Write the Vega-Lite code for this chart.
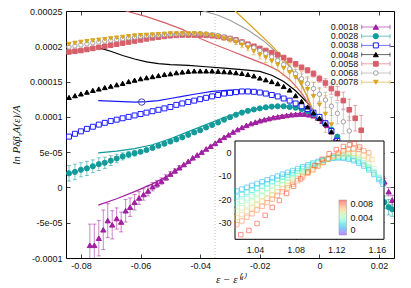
{
"$schema":"https://vega.github.io/schema/vega-lite/v6.json",
"width":328,"height":247,
"autosize":{"type":"none"},
"padding":{"left":66,"top":11,"right":17,"bottom":30},
"background":"white",
"config":{
 "view":{"stroke":"#000","strokeWidth":1},
 "axis":{"labelFont":"Liberation Sans","labelFontSize":9,"labelColor":"#111","tickColor":"#111","tickSize":-4,"tickWidth":0.8,"domain":false,"grid":false,"titleFont":"Liberation Serif","titleFontStyle":"italic","titleFontWeight":"normal","titleFontSize":11,"titleColor":"#111","zindex":1}
},
"datasets":{
"ser":[{"s":"0.0018"},{"s":"0.0028"},{"s":"0.0038"},{"s":"0.0048"},{"s":"0.0058"},{"s":"0.0068"},{"s":"0.0078"}],
"th":[
{"s":"0.0018","x":-0.0742,"y":-2.5e-5},{"s":"0.0018","x":-0.068,"y":-1.6e-5},{"s":"0.0018","x":-0.062,"y":-0.6e-5},{"s":"0.0018","x":-0.056,"y":0.5e-5},{"s":"0.0018","x":-0.05,"y":1.8e-5},{"s":"0.0018","x":-0.044,"y":3.5e-5},{"s":"0.0018","x":-0.038,"y":5.4e-5},{"s":"0.0018","x":-0.032,"y":7.1e-5},{"s":"0.0018","x":-0.026,"y":8.5e-5},{"s":"0.0018","x":-0.02,"y":9.5e-5},{"s":"0.0018","x":-0.014,"y":10.1e-5},{"s":"0.0018","x":-0.008,"y":10.45e-5},{"s":"0.0018","x":-0.002,"y":10.6e-5},
{"s":"0.0028","x":-0.0742,"y":4.9e-5},{"s":"0.0028","x":-0.068,"y":5.15e-5},{"s":"0.0028","x":-0.062,"y":5.5e-5},{"s":"0.0028","x":-0.056,"y":6.05e-5},{"s":"0.0028","x":-0.05,"y":6.9e-5},{"s":"0.0028","x":-0.044,"y":7.9e-5},{"s":"0.0028","x":-0.038,"y":8.9e-5},{"s":"0.0028","x":-0.032,"y":9.9e-5},{"s":"0.0028","x":-0.026,"y":10.7e-5},{"s":"0.0028","x":-0.02,"y":11.25e-5},{"s":"0.0028","x":-0.014,"y":11.5e-5},{"s":"0.0028","x":-0.008,"y":11.3e-5},{"s":"0.0028","x":-0.002,"y":10.6e-5},
{"s":"0.0038","x":-0.0742,"y":12.3e-5},{"s":"0.0038","x":-0.068,"y":12.2e-5},{"s":"0.0038","x":-0.062,"y":12.1e-5},{"s":"0.0038","x":-0.058,"y":12.15e-5},{"s":"0.0038","x":-0.054,"y":12.3e-5},{"s":"0.0038","x":-0.05,"y":12.6e-5},{"s":"0.0038","x":-0.046,"y":12.9e-5},{"s":"0.0038","x":-0.042,"y":13.2e-5},{"s":"0.0038","x":-0.036,"y":13.6e-5},{"s":"0.0038","x":-0.03,"y":13.8e-5},{"s":"0.0038","x":-0.024,"y":13.75e-5},{"s":"0.0038","x":-0.018,"y":13.4e-5},{"s":"0.0038","x":-0.012,"y":12.7e-5},{"s":"0.0038","x":-0.006,"y":11.6e-5},{"s":"0.0038","x":-0.002,"y":10.7e-5},
{"s":"0.0048","x":-0.0742,"y":19.8e-5},{"s":"0.0048","x":-0.07,"y":19.3e-5},{"s":"0.0048","x":-0.066,"y":18.7e-5},{"s":"0.0048","x":-0.062,"y":18.2e-5},{"s":"0.0048","x":-0.058,"y":17.8e-5},{"s":"0.0048","x":-0.054,"y":17.55e-5},{"s":"0.0048","x":-0.05,"y":17.4e-5},{"s":"0.0048","x":-0.044,"y":17.3e-5},{"s":"0.0048","x":-0.038,"y":17.1e-5},{"s":"0.0048","x":-0.032,"y":16.9e-5},{"s":"0.0048","x":-0.026,"y":16.7e-5},{"s":"0.0048","x":-0.02,"y":16.45e-5},{"s":"0.0048","x":-0.016,"y":15.9e-5},{"s":"0.0048","x":-0.012,"y":15.0e-5},{"s":"0.0048","x":-0.008,"y":13.7e-5},{"s":"0.0048","x":-0.004,"y":12.0e-5},{"s":"0.0048","x":-0.002,"y":10.8e-5},
{"s":"0.0058","x":-0.0742,"y":26.3e-5},{"s":"0.0058","x":-0.064,"y":24.9e-5},{"s":"0.0058","x":-0.058,"y":24.2e-5},{"s":"0.0058","x":-0.052,"y":23.35e-5},{"s":"0.0058","x":-0.046,"y":22.4e-5},{"s":"0.0058","x":-0.04,"y":21.1e-5},{"s":"0.0058","x":-0.036,"y":20.4e-5},{"s":"0.0058","x":-0.03,"y":19.4e-5},{"s":"0.0058","x":-0.024,"y":18.4e-5},{"s":"0.0058","x":-0.018,"y":17.4e-5},{"s":"0.0058","x":-0.014,"y":16.6e-5},{"s":"0.0058","x":-0.01,"y":15.3e-5},{"s":"0.0058","x":-0.006,"y":13.4e-5},{"s":"0.0058","x":-0.002,"y":10.7e-5},
{"s":"0.0068","x":-0.046,"y":26.2e-5},{"s":"0.0068","x":-0.039,"y":25.0e-5},{"s":"0.0068","x":-0.034,"y":24.4e-5},{"s":"0.0068","x":-0.03,"y":23.7e-5},{"s":"0.0068","x":-0.024,"y":22.3e-5},{"s":"0.0068","x":-0.0188,"y":20.8e-5},{"s":"0.0068","x":-0.0132,"y":18.7e-5},{"s":"0.0068","x":-0.01,"y":17.2e-5},{"s":"0.0068","x":-0.006,"y":14.7e-5},{"s":"0.0068","x":-0.002,"y":10.7e-5},
{"s":"0.0078","x":-0.032,"y":26.5e-5},{"s":"0.0078","x":-0.028,"y":24.9e-5},{"s":"0.0078","x":-0.024,"y":23.3e-5},{"s":"0.0078","x":-0.02,"y":21.7e-5},{"s":"0.0078","x":-0.016,"y":20.1e-5},{"s":"0.0078","x":-0.012,"y":18.3e-5},{"s":"0.0078","x":-0.008,"y":15.9e-5},{"s":"0.0078","x":-0.004,"y":12.9e-5},{"s":"0.0078","x":-0.002,"y":10.7e-5}
],
"mk":[{"x":-0.0596,"y":12.1e-5}],
"pts":[
{"s":"0.0018","x":-0.077,"y":-8.2e-5,"e":3.0e-5},{"s":"0.0018","x":-0.0755,"y":-8.2e-5,"e":3.0e-5},{"s":"0.0018","x":-0.074,"y":-7.2e-5,"e":2.5e-5},{"s":"0.0018","x":-0.0725,"y":-6.0e-5,"e":2.8e-5},{"s":"0.0018","x":-0.071,"y":-4.7e-5,"e":2.4e-5},{"s":"0.0018","x":-0.0695,"y":-5.3e-5,"e":2.0e-5},{"s":"0.0018","x":-0.068,"y":-4.4e-5,"e":1.5e-5},{"s":"0.0018","x":-0.0665,"y":-4.9e-5,"e":1.4e-5},{"s":"0.0018","x":-0.065,"y":-3.3e-5,"e":1.6e-5},{"s":"0.0018","x":-0.0635,"y":-2.8e-5,"e":1.3e-5},{"s":"0.0018","x":-0.062,"y":-2.1e-5,"e":1.1e-5},{"s":"0.0018","x":-0.0605,"y":-1.5e-5,"e":0.9e-5},{"s":"0.0018","x":-0.059,"y":-1.0e-5,"e":0.8e-5},{"s":"0.0018","x":-0.0575,"y":-0.5e-5,"e":0.7e-5},{"s":"0.0018","x":-0.056,"y":0.1e-5,"e":0.6e-5},{"s":"0.0018","x":-0.0545,"y":0.5e-5,"e":0.5e-5},{"s":"0.0018","x":-0.053,"y":0.9e-5,"e":0.45e-5},{"s":"0.0018","x":-0.0515,"y":1.4e-5,"e":0.4e-5},{"s":"0.0018","x":-0.05,"y":1.9e-5,"e":0.35e-5},{"s":"0.0018","x":-0.0485,"y":2.35e-5,"e":0.3e-5},{"s":"0.0018","x":-0.047,"y":2.8e-5,"e":0.3e-5},{"s":"0.0018","x":-0.0455,"y":3.25e-5},{"s":"0.0018","x":-0.044,"y":3.7e-5},{"s":"0.0018","x":-0.0425,"y":4.2e-5},{"s":"0.0018","x":-0.041,"y":4.6e-5},{"s":"0.0018","x":-0.0395,"y":5.0e-5},{"s":"0.0018","x":-0.038,"y":5.45e-5},{"s":"0.0018","x":-0.0365,"y":5.85e-5},{"s":"0.0018","x":-0.035,"y":6.25e-5},{"s":"0.0018","x":-0.0335,"y":6.7e-5},{"s":"0.0018","x":-0.032,"y":7.1e-5},{"s":"0.0018","x":-0.0305,"y":7.45e-5},{"s":"0.0018","x":-0.029,"y":7.85e-5},{"s":"0.0018","x":-0.0275,"y":8.2e-5},{"s":"0.0018","x":-0.026,"y":8.5e-5},{"s":"0.0018","x":-0.0245,"y":8.8e-5},{"s":"0.0018","x":-0.023,"y":9.05e-5},{"s":"0.0018","x":-0.0215,"y":9.25e-5},{"s":"0.0018","x":-0.02,"y":9.45e-5},{"s":"0.0018","x":-0.0185,"y":9.6e-5},{"s":"0.0018","x":-0.017,"y":9.75e-5},{"s":"0.0018","x":-0.0155,"y":9.9e-5},{"s":"0.0018","x":-0.014,"y":10.0e-5},{"s":"0.0018","x":-0.0125,"y":10.1e-5},{"s":"0.0018","x":-0.011,"y":10.2e-5},{"s":"0.0018","x":-0.0095,"y":10.3e-5},{"s":"0.0018","x":-0.008,"y":10.35e-5},{"s":"0.0018","x":-0.0065,"y":10.4e-5},{"s":"0.0018","x":-0.005,"y":10.4e-5},{"s":"0.0018","x":-0.0035,"y":10.3e-5},{"s":"0.0018","x":-0.002,"y":10.15e-5},{"s":"0.0018","x":-0.0005,"y":9.85e-5},{"s":"0.0018","x":0.001,"y":9.4e-5},{"s":"0.0018","x":0.0025,"y":8.8e-5},{"s":"0.0018","x":0.004,"y":7.9e-5},{"s":"0.0018","x":0.0055,"y":7.0e-5},{"s":"0.0018","x":0.007,"y":6.0e-5},{"s":"0.0018","x":0.0218,"y":0.8e-5,"e":0.5e-5},{"s":"0.0018","x":0.0232,"y":-0.6e-5,"e":0.6e-5},{"s":"0.0018","x":0.0244,"y":-1.8e-5,"e":0.7e-5},
{"s":"0.0028","x":-0.084,"y":2.0e-5,"e":1.1e-5},{"s":"0.0028","x":-0.082,"y":2.2e-5,"e":1.1e-5},{"s":"0.0028","x":-0.08,"y":2.5e-5,"e":1.0e-5},{"s":"0.0028","x":-0.078,"y":2.7e-5,"e":1.0e-5},{"s":"0.0028","x":-0.076,"y":3.0e-5,"e":0.9e-5},{"s":"0.0028","x":-0.074,"y":3.3e-5,"e":0.9e-5},{"s":"0.0028","x":-0.072,"y":3.5e-5,"e":0.8e-5},{"s":"0.0028","x":-0.07,"y":3.8e-5,"e":0.7e-5},{"s":"0.0028","x":-0.068,"y":4.1e-5,"e":0.6e-5},{"s":"0.0028","x":-0.066,"y":4.4e-5,"e":0.5e-5},{"s":"0.0028","x":-0.064,"y":4.65e-5,"e":0.45e-5},{"s":"0.0028","x":-0.062,"y":4.85e-5,"e":0.4e-5},{"s":"0.0028","x":-0.06,"y":5.05e-5},{"s":"0.0028","x":-0.058,"y":5.3e-5},{"s":"0.0028","x":-0.056,"y":5.6e-5},{"s":"0.0028","x":-0.054,"y":5.9e-5},{"s":"0.0028","x":-0.052,"y":6.2e-5},{"s":"0.0028","x":-0.05,"y":6.5e-5},{"s":"0.0028","x":-0.048,"y":6.8e-5},{"s":"0.0028","x":-0.046,"y":7.1e-5},{"s":"0.0028","x":-0.044,"y":7.45e-5},{"s":"0.0028","x":-0.042,"y":7.8e-5},{"s":"0.0028","x":-0.04,"y":8.1e-5},{"s":"0.0028","x":-0.038,"y":8.5e-5},{"s":"0.0028","x":-0.036,"y":8.85e-5},{"s":"0.0028","x":-0.034,"y":9.2e-5},{"s":"0.0028","x":-0.032,"y":9.6e-5},{"s":"0.0028","x":-0.03,"y":9.95e-5},{"s":"0.0028","x":-0.028,"y":10.3e-5},{"s":"0.0028","x":-0.026,"y":10.6e-5},{"s":"0.0028","x":-0.024,"y":10.85e-5},{"s":"0.0028","x":-0.022,"y":11.05e-5},{"s":"0.0028","x":-0.02,"y":11.2e-5},{"s":"0.0028","x":-0.018,"y":11.35e-5},{"s":"0.0028","x":-0.016,"y":11.45e-5},{"s":"0.0028","x":-0.014,"y":11.5e-5},{"s":"0.0028","x":-0.012,"y":11.5e-5},{"s":"0.0028","x":-0.01,"y":11.4e-5},{"s":"0.0028","x":-0.008,"y":11.3e-5},{"s":"0.0028","x":-0.006,"y":11.1e-5},{"s":"0.0028","x":-0.004,"y":10.8e-5},{"s":"0.0028","x":-0.002,"y":10.4e-5},{"s":"0.0028","x":0.0,"y":9.8e-5},{"s":"0.0028","x":0.002,"y":9.1e-5},{"s":"0.0028","x":0.004,"y":8.2e-5},{"s":"0.0028","x":0.006,"y":7.2e-5},{"s":"0.0028","x":0.008,"y":6.0e-5},{"s":"0.0028","x":0.0218,"y":-2.1e-5,"e":0.9e-5},{"s":"0.0028","x":0.0232,"y":-2.8e-5,"e":1.1e-5},{"s":"0.0028","x":0.0244,"y":-3.1e-5,"e":1.0e-5},
{"s":"0.0038","x":-0.084,"y":7.2e-5},{"s":"0.0038","x":-0.082,"y":7.6e-5},{"s":"0.0038","x":-0.08,"y":7.95e-5},{"s":"0.0038","x":-0.078,"y":8.3e-5},{"s":"0.0038","x":-0.076,"y":8.6e-5},{"s":"0.0038","x":-0.074,"y":8.9e-5},{"s":"0.0038","x":-0.072,"y":9.15e-5},{"s":"0.0038","x":-0.07,"y":9.4e-5},{"s":"0.0038","x":-0.068,"y":9.6e-5},{"s":"0.0038","x":-0.066,"y":9.8e-5},{"s":"0.0038","x":-0.064,"y":10.0e-5},{"s":"0.0038","x":-0.062,"y":10.2e-5},{"s":"0.0038","x":-0.06,"y":10.4e-5},{"s":"0.0038","x":-0.058,"y":10.6e-5},{"s":"0.0038","x":-0.056,"y":10.8e-5},{"s":"0.0038","x":-0.054,"y":11.0e-5},{"s":"0.0038","x":-0.052,"y":11.2e-5},{"s":"0.0038","x":-0.05,"y":11.4e-5},{"s":"0.0038","x":-0.048,"y":11.7e-5},{"s":"0.0038","x":-0.046,"y":11.9e-5},{"s":"0.0038","x":-0.044,"y":12.1e-5},{"s":"0.0038","x":-0.042,"y":12.3e-5},{"s":"0.0038","x":-0.04,"y":12.5e-5},{"s":"0.0038","x":-0.038,"y":12.7e-5},{"s":"0.0038","x":-0.036,"y":12.9e-5},{"s":"0.0038","x":-0.034,"y":13.1e-5},{"s":"0.0038","x":-0.032,"y":13.3e-5},{"s":"0.0038","x":-0.03,"y":13.4e-5},{"s":"0.0038","x":-0.028,"y":13.5e-5},{"s":"0.0038","x":-0.026,"y":13.6e-5},{"s":"0.0038","x":-0.024,"y":13.6e-5},{"s":"0.0038","x":-0.022,"y":13.55e-5},{"s":"0.0038","x":-0.02,"y":13.45e-5},{"s":"0.0038","x":-0.018,"y":13.3e-5},{"s":"0.0038","x":-0.016,"y":13.1e-5},{"s":"0.0038","x":-0.014,"y":12.9e-5},{"s":"0.0038","x":-0.012,"y":12.6e-5},{"s":"0.0038","x":-0.01,"y":12.3e-5},{"s":"0.0038","x":-0.008,"y":11.9e-5},{"s":"0.0038","x":-0.006,"y":11.5e-5},{"s":"0.0038","x":-0.004,"y":11.1e-5},{"s":"0.0038","x":-0.002,"y":10.6e-5},{"s":"0.0038","x":0.0,"y":10.0e-5},{"s":"0.0038","x":0.002,"y":9.1e-5},{"s":"0.0038","x":0.004,"y":8.0e-5},{"s":"0.0038","x":0.006,"y":6.6e-5},
{"s":"0.0048","x":-0.084,"y":12.75e-5},{"s":"0.0048","x":-0.082,"y":13.0e-5},{"s":"0.0048","x":-0.08,"y":13.25e-5},{"s":"0.0048","x":-0.078,"y":13.5e-5},{"s":"0.0048","x":-0.076,"y":13.75e-5},{"s":"0.0048","x":-0.074,"y":13.95e-5},{"s":"0.0048","x":-0.072,"y":14.15e-5},{"s":"0.0048","x":-0.07,"y":14.35e-5},{"s":"0.0048","x":-0.068,"y":14.55e-5},{"s":"0.0048","x":-0.066,"y":14.75e-5},{"s":"0.0048","x":-0.064,"y":15.0e-5},{"s":"0.0048","x":-0.062,"y":15.2e-5},{"s":"0.0048","x":-0.06,"y":15.4e-5},{"s":"0.0048","x":-0.058,"y":15.55e-5},{"s":"0.0048","x":-0.056,"y":15.7e-5},{"s":"0.0048","x":-0.054,"y":15.85e-5},{"s":"0.0048","x":-0.052,"y":16.0e-5},{"s":"0.0048","x":-0.05,"y":16.1e-5},{"s":"0.0048","x":-0.048,"y":16.25e-5},{"s":"0.0048","x":-0.046,"y":16.35e-5},{"s":"0.0048","x":-0.044,"y":16.45e-5},{"s":"0.0048","x":-0.042,"y":16.5e-5},{"s":"0.0048","x":-0.04,"y":16.5e-5},{"s":"0.0048","x":-0.038,"y":16.5e-5},{"s":"0.0048","x":-0.036,"y":16.5e-5},{"s":"0.0048","x":-0.034,"y":16.45e-5},{"s":"0.0048","x":-0.032,"y":16.4e-5},{"s":"0.0048","x":-0.03,"y":16.35e-5},{"s":"0.0048","x":-0.028,"y":16.25e-5},{"s":"0.0048","x":-0.026,"y":16.15e-5},{"s":"0.0048","x":-0.024,"y":16.0e-5},{"s":"0.0048","x":-0.022,"y":15.8e-5},{"s":"0.0048","x":-0.02,"y":15.5e-5},{"s":"0.0048","x":-0.018,"y":15.25e-5},{"s":"0.0048","x":-0.016,"y":15.0e-5},{"s":"0.0048","x":-0.014,"y":14.7e-5},{"s":"0.0048","x":-0.012,"y":14.3e-5},{"s":"0.0048","x":-0.01,"y":13.8e-5},{"s":"0.0048","x":-0.008,"y":13.0e-5},{"s":"0.0048","x":-0.006,"y":12.2e-5},{"s":"0.0048","x":-0.004,"y":11.4e-5},{"s":"0.0048","x":-0.002,"y":10.6e-5},{"s":"0.0048","x":0.0,"y":9.8e-5},{"s":"0.0048","x":0.002,"y":9.0e-5},{"s":"0.0048","x":0.004,"y":7.9e-5},{"s":"0.0048","x":0.006,"y":6.5e-5},
{"s":"0.0058","x":-0.084,"y":19.2e-5},{"s":"0.0058","x":-0.082,"y":19.3e-5},{"s":"0.0058","x":-0.08,"y":19.4e-5},{"s":"0.0058","x":-0.078,"y":19.55e-5},{"s":"0.0058","x":-0.076,"y":19.7e-5},{"s":"0.0058","x":-0.074,"y":19.85e-5},{"s":"0.0058","x":-0.072,"y":20.0e-5},{"s":"0.0058","x":-0.07,"y":20.15e-5},{"s":"0.0058","x":-0.068,"y":20.3e-5},{"s":"0.0058","x":-0.066,"y":20.45e-5},{"s":"0.0058","x":-0.064,"y":20.6e-5},{"s":"0.0058","x":-0.062,"y":20.75e-5},{"s":"0.0058","x":-0.06,"y":20.9e-5},{"s":"0.0058","x":-0.058,"y":21.05e-5},{"s":"0.0058","x":-0.056,"y":21.2e-5},{"s":"0.0058","x":-0.054,"y":21.3e-5},{"s":"0.0058","x":-0.052,"y":21.4e-5},{"s":"0.0058","x":-0.05,"y":21.5e-5},{"s":"0.0058","x":-0.048,"y":21.55e-5},{"s":"0.0058","x":-0.046,"y":21.6e-5},{"s":"0.0058","x":-0.044,"y":21.6e-5},{"s":"0.0058","x":-0.042,"y":21.6e-5},{"s":"0.0058","x":-0.04,"y":21.6e-5},{"s":"0.0058","x":-0.038,"y":21.55e-5},{"s":"0.0058","x":-0.036,"y":21.5e-5},{"s":"0.0058","x":-0.034,"y":21.4e-5},{"s":"0.0058","x":-0.032,"y":21.25e-5},{"s":"0.0058","x":-0.03,"y":21.1e-5},{"s":"0.0058","x":-0.028,"y":20.9e-5},{"s":"0.0058","x":-0.026,"y":20.6e-5},{"s":"0.0058","x":-0.024,"y":20.3e-5},{"s":"0.0058","x":-0.022,"y":20.0e-5},{"s":"0.0058","x":-0.02,"y":19.7e-5},{"s":"0.0058","x":-0.018,"y":19.4e-5},{"s":"0.0058","x":-0.016,"y":19.1e-5},{"s":"0.0058","x":-0.014,"y":18.8e-5},{"s":"0.0058","x":-0.012,"y":18.4e-5,"e":0.25e-5},{"s":"0.0058","x":-0.01,"y":18.0e-5,"e":0.3e-5},{"s":"0.0058","x":-0.008,"y":17.5e-5,"e":0.3e-5},{"s":"0.0058","x":-0.006,"y":17.0e-5,"e":0.35e-5},{"s":"0.0058","x":-0.004,"y":16.6e-5,"e":0.4e-5},{"s":"0.0058","x":-0.002,"y":16.1e-5,"e":0.45e-5},{"s":"0.0058","x":0.0,"y":15.4e-5,"e":0.5e-5},{"s":"0.0058","x":0.002,"y":14.8e-5,"e":0.6e-5},{"s":"0.0058","x":0.004,"y":14.0e-5,"e":0.8e-5},{"s":"0.0058","x":0.006,"y":13.3e-5,"e":1.0e-5},{"s":"0.0058","x":0.008,"y":12.3e-5,"e":1.2e-5},{"s":"0.0058","x":0.01,"y":11.0e-5,"e":1.5e-5},{"s":"0.0058","x":0.012,"y":9.8e-5,"e":1.8e-5},{"s":"0.0058","x":0.014,"y":8.1e-5,"e":2.1e-5},
{"s":"0.0068","x":-0.084,"y":19.9e-5},{"s":"0.0068","x":-0.082,"y":20.05e-5},{"s":"0.0068","x":-0.08,"y":20.2e-5},{"s":"0.0068","x":-0.078,"y":20.35e-5},{"s":"0.0068","x":-0.076,"y":20.5e-5},{"s":"0.0068","x":-0.074,"y":20.6e-5},{"s":"0.0068","x":-0.072,"y":20.75e-5},{"s":"0.0068","x":-0.07,"y":20.85e-5},{"s":"0.0068","x":-0.068,"y":20.95e-5},{"s":"0.0068","x":-0.066,"y":21.1e-5},{"s":"0.0068","x":-0.064,"y":21.2e-5},{"s":"0.0068","x":-0.062,"y":21.3e-5},{"s":"0.0068","x":-0.06,"y":21.4e-5},{"s":"0.0068","x":-0.058,"y":21.5e-5},{"s":"0.0068","x":-0.056,"y":21.55e-5},{"s":"0.0068","x":-0.054,"y":21.6e-5},{"s":"0.0068","x":-0.052,"y":21.65e-5},{"s":"0.0068","x":-0.05,"y":21.7e-5},{"s":"0.0068","x":-0.048,"y":21.75e-5},{"s":"0.0068","x":-0.046,"y":21.8e-5},{"s":"0.0068","x":-0.044,"y":21.8e-5},{"s":"0.0068","x":-0.042,"y":21.8e-5},{"s":"0.0068","x":-0.04,"y":21.8e-5},{"s":"0.0068","x":-0.038,"y":21.75e-5},{"s":"0.0068","x":-0.036,"y":21.65e-5},{"s":"0.0068","x":-0.034,"y":21.5e-5},{"s":"0.0068","x":-0.032,"y":21.3e-5},{"s":"0.0068","x":-0.03,"y":21.1e-5},{"s":"0.0068","x":-0.028,"y":20.85e-5},{"s":"0.0068","x":-0.026,"y":20.55e-5},{"s":"0.0068","x":-0.024,"y":20.2e-5},{"s":"0.0068","x":-0.022,"y":19.8e-5},{"s":"0.0068","x":-0.02,"y":19.4e-5},{"s":"0.0068","x":-0.018,"y":19.0e-5,"e":0.25e-5},{"s":"0.0068","x":-0.016,"y":18.5e-5,"e":0.3e-5},{"s":"0.0068","x":-0.014,"y":18.0e-5,"e":0.35e-5},{"s":"0.0068","x":-0.012,"y":17.4e-5,"e":0.4e-5},{"s":"0.0068","x":-0.01,"y":16.8e-5,"e":0.5e-5},{"s":"0.0068","x":-0.008,"y":16.1e-5,"e":0.6e-5},{"s":"0.0068","x":-0.006,"y":15.4e-5,"e":0.7e-5},{"s":"0.0068","x":-0.004,"y":14.7e-5,"e":0.8e-5},{"s":"0.0068","x":-0.002,"y":14.0e-5,"e":0.9e-5},{"s":"0.0068","x":0.0,"y":13.2e-5,"e":1.0e-5},{"s":"0.0068","x":0.002,"y":12.4e-5,"e":1.1e-5},{"s":"0.0068","x":0.004,"y":11.5e-5,"e":1.3e-5},{"s":"0.0068","x":0.006,"y":10.5e-5,"e":1.5e-5},{"s":"0.0068","x":0.008,"y":9.3e-5,"e":1.7e-5},{"s":"0.0068","x":0.01,"y":8.0e-5,"e":2.0e-5},
{"s":"0.0078","x":-0.084,"y":20.3e-5},{"s":"0.0078","x":-0.082,"y":20.45e-5},{"s":"0.0078","x":-0.08,"y":20.6e-5},{"s":"0.0078","x":-0.078,"y":20.7e-5},{"s":"0.0078","x":-0.076,"y":20.8e-5},{"s":"0.0078","x":-0.074,"y":20.9e-5},{"s":"0.0078","x":-0.072,"y":21.0e-5},{"s":"0.0078","x":-0.07,"y":21.1e-5},{"s":"0.0078","x":-0.068,"y":21.2e-5},{"s":"0.0078","x":-0.066,"y":21.3e-5},{"s":"0.0078","x":-0.064,"y":21.4e-5},{"s":"0.0078","x":-0.062,"y":21.5e-5},{"s":"0.0078","x":-0.06,"y":21.55e-5},{"s":"0.0078","x":-0.058,"y":21.6e-5},{"s":"0.0078","x":-0.056,"y":21.65e-5},{"s":"0.0078","x":-0.054,"y":21.7e-5},{"s":"0.0078","x":-0.052,"y":21.75e-5},{"s":"0.0078","x":-0.05,"y":21.8e-5},{"s":"0.0078","x":-0.048,"y":21.8e-5},{"s":"0.0078","x":-0.046,"y":21.8e-5},{"s":"0.0078","x":-0.044,"y":21.8e-5},{"s":"0.0078","x":-0.042,"y":21.8e-5},{"s":"0.0078","x":-0.04,"y":21.75e-5},{"s":"0.0078","x":-0.038,"y":21.7e-5},{"s":"0.0078","x":-0.036,"y":21.55e-5},{"s":"0.0078","x":-0.034,"y":21.35e-5,"e":0.2e-5},{"s":"0.0078","x":-0.032,"y":21.1e-5,"e":0.25e-5},{"s":"0.0078","x":-0.03,"y":20.9e-5,"e":0.3e-5},{"s":"0.0078","x":-0.028,"y":20.6e-5,"e":0.35e-5},{"s":"0.0078","x":-0.026,"y":20.2e-5,"e":0.4e-5},{"s":"0.0078","x":-0.024,"y":19.8e-5,"e":0.45e-5},{"s":"0.0078","x":-0.022,"y":19.3e-5,"e":0.5e-5},{"s":"0.0078","x":-0.02,"y":18.8e-5,"e":0.6e-5},{"s":"0.0078","x":-0.018,"y":18.4e-5,"e":0.7e-5},{"s":"0.0078","x":-0.016,"y":17.9e-5,"e":0.8e-5},{"s":"0.0078","x":-0.014,"y":17.4e-5,"e":0.9e-5},{"s":"0.0078","x":-0.012,"y":16.9e-5,"e":1.0e-5},{"s":"0.0078","x":-0.01,"y":16.3e-5,"e":1.2e-5},{"s":"0.0078","x":-0.008,"y":15.6e-5,"e":1.4e-5},{"s":"0.0078","x":-0.006,"y":14.8e-5,"e":1.6e-5},{"s":"0.0078","x":-0.004,"y":13.9e-5,"e":1.8e-5},{"s":"0.0078","x":-0.002,"y":12.9e-5,"e":2.0e-5},{"s":"0.0078","x":0.0,"y":11.7e-5,"e":2.3e-5},{"s":"0.0078","x":0.002,"y":10.4e-5,"e":2.6e-5},{"s":"0.0078","x":0.004,"y":8.9e-5,"e":2.9e-5}
],
"ins":[
{"c":0.0018,"x":1.022,"y":-16.5},{"c":0.0018,"x":1.027,"y":-15.7},{"c":0.0018,"x":1.032,"y":-14.9},{"c":0.0018,"x":1.037,"y":-14.1},{"c":0.0018,"x":1.042,"y":-13.3},{"c":0.0018,"x":1.047,"y":-12.5},{"c":0.0018,"x":1.052,"y":-11.7},{"c":0.0018,"x":1.057,"y":-10.9},{"c":0.0018,"x":1.062,"y":-10.1},{"c":0.0018,"x":1.067,"y":-9.3},{"c":0.0018,"x":1.072,"y":-8.5},{"c":0.0018,"x":1.077,"y":-7.7},{"c":0.0018,"x":1.082,"y":-6.9},{"c":0.0018,"x":1.087,"y":-6.1},{"c":0.0018,"x":1.092,"y":-5.3},{"c":0.0018,"x":1.097,"y":-4.5},{"c":0.0018,"x":1.102,"y":-3.8},{"c":0.0018,"x":1.107,"y":-3.2},{"c":0.0018,"x":1.112,"y":-2.7},{"c":0.0018,"x":1.117,"y":-2.4},{"c":0.0018,"x":1.122,"y":-2.3},{"c":0.0018,"x":1.127,"y":-2.4},{"c":0.0018,"x":1.132,"y":-2.8},{"c":0.0018,"x":1.137,"y":-3.5},{"c":0.0018,"x":1.142,"y":-4.5},{"c":0.0018,"x":1.147,"y":-5.8},{"c":0.0018,"x":1.152,"y":-7.4},{"c":0.0018,"x":1.157,"y":-9.4},{"c":0.0018,"x":1.162,"y":-11.6},{"c":0.0018,"x":1.166,"y":-13.6},
{"c":0.0028,"x":1.022,"y":-19.0},{"c":0.0028,"x":1.027,"y":-18.1},{"c":0.0028,"x":1.032,"y":-17.1},{"c":0.0028,"x":1.037,"y":-16.2},{"c":0.0028,"x":1.042,"y":-15.3},{"c":0.0028,"x":1.047,"y":-14.4},{"c":0.0028,"x":1.052,"y":-13.4},{"c":0.0028,"x":1.057,"y":-12.5},{"c":0.0028,"x":1.062,"y":-11.6},{"c":0.0028,"x":1.067,"y":-10.6},{"c":0.0028,"x":1.072,"y":-9.7},{"c":0.0028,"x":1.077,"y":-8.8},{"c":0.0028,"x":1.082,"y":-7.9},{"c":0.0028,"x":1.087,"y":-6.9},{"c":0.0028,"x":1.092,"y":-6.0},{"c":0.0028,"x":1.097,"y":-5.1},{"c":0.0028,"x":1.102,"y":-4.2},{"c":0.0028,"x":1.107,"y":-3.4},{"c":0.0028,"x":1.112,"y":-2.7},{"c":0.0028,"x":1.117,"y":-2.2},{"c":0.0028,"x":1.122,"y":-1.95},{"c":0.0028,"x":1.127,"y":-1.95},{"c":0.0028,"x":1.132,"y":-2.2},{"c":0.0028,"x":1.137,"y":-2.9},{"c":0.0028,"x":1.142,"y":-3.8},{"c":0.0028,"x":1.147,"y":-5.1},{"c":0.0028,"x":1.152,"y":-6.7},{"c":0.0028,"x":1.157,"y":-8.7},{"c":0.0028,"x":1.162,"y":-11.0},{"c":0.0028,"x":1.165,"y":-12.5},
{"c":0.0038,"x":1.022,"y":-22.0},{"c":0.0038,"x":1.027,"y":-20.9},{"c":0.0038,"x":1.032,"y":-19.8},{"c":0.0038,"x":1.037,"y":-18.7},{"c":0.0038,"x":1.042,"y":-17.6},{"c":0.0038,"x":1.047,"y":-16.5},{"c":0.0038,"x":1.052,"y":-15.4},{"c":0.0038,"x":1.057,"y":-14.3},{"c":0.0038,"x":1.062,"y":-13.2},{"c":0.0038,"x":1.067,"y":-12.1},{"c":0.0038,"x":1.072,"y":-11.0},{"c":0.0038,"x":1.077,"y":-9.9},{"c":0.0038,"x":1.082,"y":-8.8},{"c":0.0038,"x":1.087,"y":-7.7},{"c":0.0038,"x":1.092,"y":-6.6},{"c":0.0038,"x":1.097,"y":-5.5},{"c":0.0038,"x":1.102,"y":-4.4},{"c":0.0038,"x":1.107,"y":-3.4},{"c":0.0038,"x":1.112,"y":-2.6},{"c":0.0038,"x":1.117,"y":-2.0},{"c":0.0038,"x":1.122,"y":-1.6},{"c":0.0038,"x":1.127,"y":-1.4},{"c":0.0038,"x":1.132,"y":-1.6},{"c":0.0038,"x":1.137,"y":-2.1},{"c":0.0038,"x":1.142,"y":-3.1},{"c":0.0038,"x":1.147,"y":-4.4},{"c":0.0038,"x":1.152,"y":-6.0},{"c":0.0038,"x":1.157,"y":-8.1},{"c":0.0038,"x":1.162,"y":-10.5},
{"c":0.0048,"x":1.022,"y":-25.0},{"c":0.0048,"x":1.027,"y":-23.75},{"c":0.0048,"x":1.032,"y":-22.5},{"c":0.0048,"x":1.037,"y":-21.25},{"c":0.0048,"x":1.042,"y":-20.0},{"c":0.0048,"x":1.047,"y":-18.75},{"c":0.0048,"x":1.052,"y":-17.5},{"c":0.0048,"x":1.057,"y":-16.25},{"c":0.0048,"x":1.062,"y":-15.0},{"c":0.0048,"x":1.067,"y":-13.75},{"c":0.0048,"x":1.072,"y":-12.5},{"c":0.0048,"x":1.077,"y":-11.25},{"c":0.0048,"x":1.082,"y":-10.0},{"c":0.0048,"x":1.087,"y":-8.75},{"c":0.0048,"x":1.092,"y":-7.5},{"c":0.0048,"x":1.097,"y":-6.25},{"c":0.0048,"x":1.102,"y":-5.0},{"c":0.0048,"x":1.107,"y":-3.8},{"c":0.0048,"x":1.112,"y":-2.7},{"c":0.0048,"x":1.117,"y":-1.8},{"c":0.0048,"x":1.122,"y":-1.2},{"c":0.0048,"x":1.127,"y":-0.85},{"c":0.0048,"x":1.132,"y":-0.85},{"c":0.0048,"x":1.137,"y":-1.2},{"c":0.0048,"x":1.142,"y":-2.0},{"c":0.0048,"x":1.147,"y":-3.3},{"c":0.0048,"x":1.152,"y":-4.9},{"c":0.0048,"x":1.157,"y":-7.0},
{"c":0.0058,"x":1.022,"y":-28.0},{"c":0.0058,"x":1.027,"y":-26.6},{"c":0.0058,"x":1.032,"y":-25.2},{"c":0.0058,"x":1.037,"y":-23.8},{"c":0.0058,"x":1.042,"y":-22.4},{"c":0.0058,"x":1.047,"y":-21.0},{"c":0.0058,"x":1.052,"y":-19.7},{"c":0.0058,"x":1.057,"y":-18.3},{"c":0.0058,"x":1.062,"y":-16.9},{"c":0.0058,"x":1.067,"y":-15.5},{"c":0.0058,"x":1.072,"y":-14.1},{"c":0.0058,"x":1.077,"y":-12.7},{"c":0.0058,"x":1.082,"y":-11.3},{"c":0.0058,"x":1.087,"y":-9.9},{"c":0.0058,"x":1.092,"y":-8.5},{"c":0.0058,"x":1.097,"y":-7.1},{"c":0.0058,"x":1.102,"y":-5.7},{"c":0.0058,"x":1.107,"y":-4.3},{"c":0.0058,"x":1.112,"y":-3.0},{"c":0.0058,"x":1.117,"y":-1.8},{"c":0.0058,"x":1.122,"y":-0.9},{"c":0.0058,"x":1.127,"y":-0.3},{"c":0.0058,"x":1.132,"y":0.0},{"c":0.0058,"x":1.137,"y":-0.2},{"c":0.0058,"x":1.142,"y":-0.6},{"c":0.0058,"x":1.147,"y":-1.3},{"c":0.0058,"x":1.152,"y":-2.3},{"c":0.0058,"x":1.155,"y":-3.0},
{"c":0.0068,"x":1.022,"y":-31.0},{"c":0.0068,"x":1.027,"y":-29.4},{"c":0.0068,"x":1.032,"y":-27.8},{"c":0.0068,"x":1.037,"y":-26.3},{"c":0.0068,"x":1.042,"y":-24.7},{"c":0.0068,"x":1.047,"y":-23.1},{"c":0.0068,"x":1.052,"y":-21.5},{"c":0.0068,"x":1.057,"y":-20.0},{"c":0.0068,"x":1.062,"y":-18.4},{"c":0.0068,"x":1.067,"y":-16.8},{"c":0.0068,"x":1.072,"y":-15.2},{"c":0.0068,"x":1.077,"y":-13.7},{"c":0.0068,"x":1.082,"y":-12.1},{"c":0.0068,"x":1.087,"y":-10.5},{"c":0.0068,"x":1.092,"y":-8.9},{"c":0.0068,"x":1.097,"y":-7.4},{"c":0.0068,"x":1.102,"y":-5.8},{"c":0.0068,"x":1.107,"y":-4.2},{"c":0.0068,"x":1.112,"y":-2.7},{"c":0.0068,"x":1.117,"y":-1.3},{"c":0.0068,"x":1.122,"y":-0.1},{"c":0.0068,"x":1.127,"y":0.8},{"c":0.0068,"x":1.132,"y":1.4},{"c":0.0068,"x":1.137,"y":1.6},{"c":0.0068,"x":1.142,"y":1.4},{"c":0.0068,"x":1.147,"y":0.9},{"c":0.0068,"x":1.152,"y":0.0},
{"c":0.0078,"x":1.026,"y":-35.3},{"c":0.0078,"x":1.034,"y":-33.5},{"c":0.0078,"x":1.042,"y":-30.5},{"c":0.0078,"x":1.05,"y":-27.0},{"c":0.0078,"x":1.057,"y":-23.6},{"c":0.0078,"x":1.064,"y":-20.6},{"c":0.0078,"x":1.071,"y":-17.6},{"c":0.0078,"x":1.078,"y":-14.5},{"c":0.0078,"x":1.085,"y":-11.3},{"c":0.0078,"x":1.092,"y":-8.3},{"c":0.0078,"x":1.099,"y":-5.6},{"c":0.0078,"x":1.106,"y":-2.9},{"c":0.0078,"x":1.113,"y":-0.5},{"c":0.0078,"x":1.12,"y":1.3},{"c":0.0078,"x":1.127,"y":2.6},{"c":0.0078,"x":1.133,"y":3.4},{"c":0.0078,"x":1.138,"y":3.9},{"c":0.0078,"x":1.143,"y":2.4}
]
},
"layer":[
{"encoding":{
   "x":{"field":"x","type":"quantitative","scale":{"domain":[-0.085,0.025],"nice":false,"zero":false},
    "axis":{"orient":"bottom","values":[-0.08,-0.06,-0.04,-0.02,0,0.02],"labelExpr":"replace(format(datum.value,''),'\u2212','-')","labelPadding":7,"title":"ε − ε⁽ᵈ⁾","titlePadding":3}},
   "y":{"field":"y","type":"quantitative","scale":{"domain":[-0.0001,0.00025],"nice":false,"zero":false},
    "axis":{"orient":"left","values":[-0.0001,-0.00005,0,0.00005,0.0001,0.00015,0.0002,0.00025],"labelExpr":"abs(datum.value-0.00005)<1e-9 ? '5e-05' : abs(datum.value+0.00005)<1e-9 ? '-5e-05' : replace(format(datum.value,''),'\u2212','-')","labelPadding":8,"title":"ln Pδβ,A(ε)/A","titlePadding":8}}},
 "layer":[
 {"data":{"name":"th"},"mark":{"type":"line","strokeWidth":1.2,"clip":true},
  "encoding":{"color":{"field":"s","type":"nominal","scale":{"domain":["0.0018","0.0028","0.0038","0.0048","0.0058","0.0068","0.0078"],"range":["#a020a0","#139a9a","#1a1aff","#000000","#d6606a","#a0a0a0","#daa520"]},"legend":null}}},
 {"data":{"name":"mk"},"mark":{"type":"point","shape":"circle","size":42,"filled":false,"color":"#44449a","strokeWidth":1,"opacity":1},
  "encoding":{}},
 {"data":{"name":"pts"},"transform":[{"filter":"datum.e > 0"}],"mark":{"type":"errorbar","clip":true,"opacity":0.55,"ticks":{"size":4}},
  "encoding":{"yError":{"field":"e"},"color":{"field":"s","type":"nominal","legend":null}}},
 {"data":{"name":"pts"},"mark":{"type":"point","opacity":1,"strokeWidth":1,"clip":true},
  "encoding":{
   "shape":{"field":"s","type":"nominal","scale":{"domain":["0.0018","0.0028","0.0038","0.0048","0.0058","0.0068","0.0078"],"range":["triangle-up","circle","square","triangle-up","square","circle","triangle-down"]},"legend":null},
   "size":{"field":"s","type":"nominal","scale":{"domain":["0.0018","0.0028","0.0038","0.0048","0.0058","0.0068","0.0078"],"range":[28,18,22,10,24,24,26]},"legend":null},
   "fill":{"field":"s","type":"nominal","scale":{"domain":["0.0018","0.0028","0.0038","0.0048","0.0058","0.0068","0.0078"],"range":["#a020a0","#139a9a","#ffffff","#000000","#d6606a","#ffffff","#daa520"]},"legend":null},
   "stroke":{"field":"s","type":"nominal","scale":{"domain":["0.0018","0.0028","0.0038","0.0048","0.0058","0.0068","0.0078"],"range":["#a020a0","#139a9a","#1a1aff","#000000","#d6606a","#a0a0a0","#daa520"]},"legend":null}
  }}
]},
{"layer":[
 {"data":{"values":[{}]},"mark":{"type":"rect","fill":"white","stroke":"#000","strokeWidth":1},
  "encoding":{"x":{"datum":1.0203,"type":"quantitative"},"x2":{"datum":1.167},"y":{"datum":-37.3,"type":"quantitative"},"y2":{"datum":5}}},
 {"data":{"name":"ins"},"mark":{"type":"point","shape":"square","filled":false,"size":20,"strokeWidth":1,"opacity":0.5},
  "encoding":{
   "x":{"field":"x","type":"quantitative","scale":{"type":"linear","domain":[1.0203,1.167],"range":[169,318],"nice":false,"zero":false},
    "axis":{"orient":"bottom","offset":-18.7,"values":[1.04,1.08,1.12,1.16],"format":".2f","title":null,"tickSize":-3,"labelPadding":9}},
   "y":{"field":"y","type":"quantitative","scale":{"type":"linear","domain":[-37.3,5],"range":[228.3,130],"nice":false,"zero":false},
    "axis":{"orient":"left","offset":-169,"values":[0,-10,-20,-30],"labelExpr":"replace(format(datum.value,''),'\u2212','-')","title":null,"tickSize":-3,"labelPadding":7}},
   "color":{"field":"c","type":"quantitative","scale":{"domain":[0,0.008],"range":["#8000ff","#4062fa","#00b4ec","#40ecd4","#80ffb4","#bfec8e","#ffb462","#ff6232","#ff0000"]},
    "legend":{"orient":"none","legendX":273,"legendY":189,"direction":"vertical","gradientLength":35,"gradientThickness":7.5,"values":[0,0.004,0.008],"format":"~g","title":null,"labelFont":"Liberation Sans","labelFontSize":9,"labelColor":"#111","labelOffset":4,"padding":0,"gradientStrokeColor":"#333","gradientStrokeWidth":0.5}}
  }}
]},
{"data":{"values":[{}]},"mark":{"type":"point","opacity":0},
 "encoding":{
  "x":{"datum":1.1,"type":"quantitative","scale":{"type":"linear","domain":[1.0203,1.167],"range":[169,318],"nice":false,"zero":false},"axis":{"orient":"top","offset":-130,"values":[1.04,1.08,1.12,1.16],"labels":false,"title":null,"tickSize":-3}},
  "y":{"datum":0,"type":"quantitative","scale":{"type":"linear","domain":[-37.3,5],"range":[228.3,130],"nice":false,"zero":false},"axis":{"orient":"right","offset":-10,"values":[0,-10,-20,-30],"labels":false,"title":null,"tickSize":-3}}
 }},
{"encoding":{
  "x":{"datum":0,"type":"quantitative","scale":{"type":"linear","domain":[-0.085,0.025],"nice":false,"zero":false},"axis":{"orient":"top","values":[-0.08,-0.06,-0.04,-0.02,0,0.02],"labels":false,"title":null}},
  "y":{"datum":0,"type":"quantitative","scale":{"type":"linear","domain":[-0.0001,0.00025],"nice":false,"zero":false},"axis":{"orient":"right","values":[-0.0001,-0.00005,0,0.00005,0.0001,0.00015,0.0002,0.00025],"labels":false,"title":null}}},
 "layer":[
 {"data":{"values":[{}]},"mark":{"type":"rule","color":"#aaaaaa","strokeDash":[1,2],"strokeWidth":0.8},
  "encoding":{"x":{"datum":-0.035,"type":"quantitative"},"y":null}},
 {"data":{"values":[{}]},"mark":{"type":"point","opacity":0},"encoding":{}}
]},
{"data":{"name":"ser"},
 "encoding":{"y":{"field":"s","type":"nominal","scale":{"type":"point","range":[16,71.2],"padding":0},"axis":null}},
 "layer":[
  {"mark":{"type":"rule","strokeWidth":1,"opacity":0.6},
   "encoding":{"x":{"datum":0,"type":"quantitative","scale":{"type":"linear","domain":[0,1],"range":[295.7,324],"nice":false,"zero":false},"axis":null},"x2":{"datum":1},
    "color":{"field":"s","type":"nominal","scale":{"domain":["0.0018","0.0028","0.0038","0.0048","0.0058","0.0068","0.0078"],"range":["#a020a0","#139a9a","#1a1aff","#000000","#d6606a","#a0a0a0","#daa520"]},"legend":null}}},
  {"mark":{"type":"tick","orient":"vertical","size":4.4,"thickness":1,"opacity":0.6},
   "encoding":{"x":{"datum":0,"type":"quantitative","scale":{"type":"linear","domain":[0,1],"range":[295.7,324],"nice":false,"zero":false},"axis":null},
    "color":{"field":"s","type":"nominal","scale":{"domain":["0.0018","0.0028","0.0038","0.0048","0.0058","0.0068","0.0078"],"range":["#a020a0","#139a9a","#1a1aff","#000000","#d6606a","#a0a0a0","#daa520"]},"legend":null}}},
  {"mark":{"type":"tick","orient":"vertical","size":4.4,"thickness":1,"opacity":0.6},
   "encoding":{"x":{"datum":1,"type":"quantitative","scale":{"type":"linear","domain":[0,1],"range":[295.7,324],"nice":false,"zero":false},"axis":null},
    "color":{"field":"s","type":"nominal","scale":{"domain":["0.0018","0.0028","0.0038","0.0048","0.0058","0.0068","0.0078"],"range":["#a020a0","#139a9a","#1a1aff","#000000","#d6606a","#a0a0a0","#daa520"]},"legend":null}}},
  {"mark":{"type":"point","opacity":1,"strokeWidth":1},
   "encoding":{"x":{"datum":0.5,"type":"quantitative","scale":{"type":"linear","domain":[0,1],"range":[295.7,324],"nice":false,"zero":false},"axis":null},
    "shape":{"field":"s","type":"nominal","scale":{"domain":["0.0018","0.0028","0.0038","0.0048","0.0058","0.0068","0.0078"],"range":["triangle-up","circle","square","triangle-up","square","circle","triangle-down"]},"legend":null},
    "size":{"field":"s","type":"nominal","scale":{"domain":["0.0018","0.0028","0.0038","0.0048","0.0058","0.0068","0.0078"],"range":[28,20,22,12,24,24,26]},"legend":null},
    "fill":{"field":"s","type":"nominal","scale":{"domain":["0.0018","0.0028","0.0038","0.0048","0.0058","0.0068","0.0078"],"range":["#a020a0","#139a9a","#ffffff","#000000","#d6606a","#ffffff","#daa520"]},"legend":null},
    "stroke":{"field":"s","type":"nominal","scale":{"domain":["0.0018","0.0028","0.0038","0.0048","0.0058","0.0068","0.0078"],"range":["#a020a0","#139a9a","#1a1aff","#000000","#d6606a","#a0a0a0","#daa520"]},"legend":null}}},
  {"mark":{"type":"text","align":"right","baseline":"middle","dx":-3.5,"fontSize":9,"font":"Liberation Sans","color":"#111"},
   "encoding":{"x":{"datum":0,"type":"quantitative","scale":{"type":"linear","domain":[0,1],"range":[295.7,324],"nice":false,"zero":false},"axis":null},"text":{"field":"s"}}}
 ],
 "resolve":{"scale":{"x":"independent"}}}
],
"resolve":{"scale":{"x":"independent","y":"independent","color":"independent","shape":"independent","fill":"independent","stroke":"independent","size":"independent"}}
}
